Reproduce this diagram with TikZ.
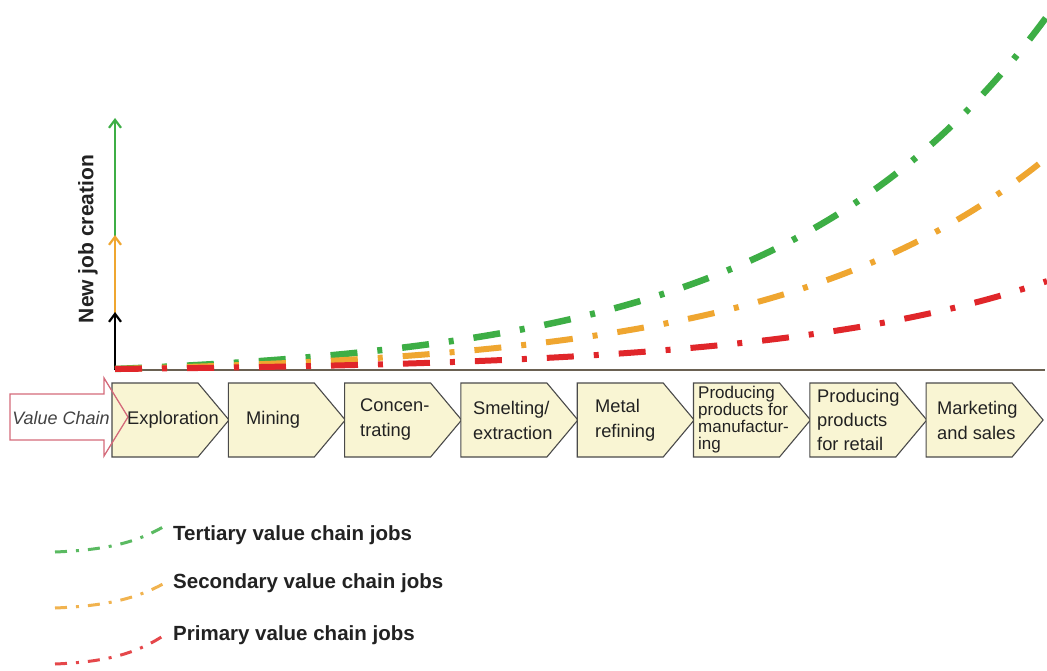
\documentclass[tikz,border=0pt]{standalone}
\usepackage{fontspec}
\setmainfont{Liberation Sans}
\usetikzlibrary{arrows.meta}
\definecolor{cgreen}{HTML}{3DAE45}
\definecolor{corange}{HTML}{EFA630}
\definecolor{cred}{HTML}{E0262A}
\definecolor{cfill}{HTML}{F9F5D3}
\definecolor{cbord}{HTML}{4A4A4A}
\definecolor{cpink}{HTML}{D46A7A}
\definecolor{ctext}{HTML}{222222}
\definecolor{caxis}{HTML}{6A6152}
\begin{document}
\begin{tikzpicture}[x=1pt,y=-1pt,
  chev/.style={draw=cbord, fill=cfill, line width=1.1pt, line join=miter},
  lab/.style={anchor=west, inner sep=0pt, align=left, text=ctext, font=\fontsize{18.3}{25}\selectfont},
  bigcurve/.style={line width=#1, dash pattern=on 27pt off 20pt on 5pt off 20pt},
  legcurve/.style={line width=3pt, dash pattern=on 12pt off 9pt on 3pt off 9pt},
  legtext/.style={anchor=west, inner sep=0pt, text=ctext, font=\bfseries\fontsize{20.5}{24}\selectfont},
  yarrow/.style={line width=2.2pt, -{Straight Barb[length=8pt,width=12pt]}}
]
\useasboundingbox[fill=white] (0,0) rectangle (1047,671);

% value chain arrow (white body behind the boxes)
\fill[white] (10,394) -- (104,394) -- (104,378) -- (128,417) -- (104,456) -- (104,440) -- (10,440) -- cycle;

% chevrons
\foreach \x in {112,228.3,344.6,460.9,577.2,693.5,809.8,926.1}{
  \draw[chev] (\x,383) -- (\x+86,383) -- (\x+117,420) -- (\x+86,457) -- (\x,457) -- cycle;
}

% value chain arrow outline
\draw[cpink, line width=1.3pt, line join=miter] (10,394) -- (104,394) -- (104,378) -- (128,417) -- (104,456) -- (104,440) -- (10,440) -- cycle;
\node[inner sep=0pt, text=ctext!85, font=\itshape\fontsize{18}{20}\selectfont] (vc) at (61,418) {Value Chain};

% chevron labels
\node[lab] (explo) at (127,420) {Exploration};
\node[lab] (mining) at (246,420) {Mining};
\node[lab] (conc) at (360,420) {Concen-\\trating};
\node[lab] (smelt) at (473,420) {Smelting/\\extraction};
\node[lab] (metal) at (595,420) {Metal\\refining};
\node[lab, font=\fontsize{17}{17}\selectfont] (manuf) at (698,420) {Producing\\products for\\manufactur-\\ing};
\node[lab, font=\fontsize{18.3}{24}\selectfont] (retail) at (817,420) {Producing\\products\\for retail};
\node[lab] (market) at (937,420) {Marketing\\and sales};

% axes
\coordinate (o) at (115,370);
\coordinate (xend) at (1045,370);
\coordinate (gt) at (115,118);
\coordinate (ot) at (115,235);
\coordinate (bt) at (115,312);
\draw[caxis, line width=2.4pt] (o) -- (xend);
\draw[cgreen, yarrow] (o) -- (gt);
\draw[corange, yarrow] (o) -- (ot);
\draw[black, yarrow] (o) -- (bt);
\node[rotate=90, inner sep=0pt, text=ctext, font=\bfseries\fontsize{21}{24}\selectfont] (ylab) at (88,239) {New job creation};

% curves
\draw[cgreen, bigcurve=6.5pt] plot[domain=115:1047, samples=140] (\x, {369 - 11*(exp(0.00375*(\x-115))-1)});
\draw[corange, bigcurve=6pt] plot[domain=115:1047, samples=140] (\x, {369 - 6.6*(exp(0.00375*(\x-115))-1)});
\draw[cred, bigcurve=6pt] plot[domain=115:1047, samples=140] (\x, {369 - 2.74*(exp(0.00375*(\x-115))-1)});

% legend
\draw[cgreen!85, legcurve] (55,552) .. controls (105,550) and (135,543) .. (163,527);
\draw[corange!85, legcurve] (55,608) .. controls (105,606) and (135,599) .. (163,584);
\draw[cred!85, legcurve] (55,664) .. controls (105,662) and (135,654) .. (163,636);
\node[legtext] (lt) at (173,535) {Tertiary value chain jobs};
\node[legtext] (ls) at (173,583) {Secondary value chain jobs};
\node[legtext] (lp) at (173,635) {Primary value chain jobs};
\end{tikzpicture}
\end{document}
